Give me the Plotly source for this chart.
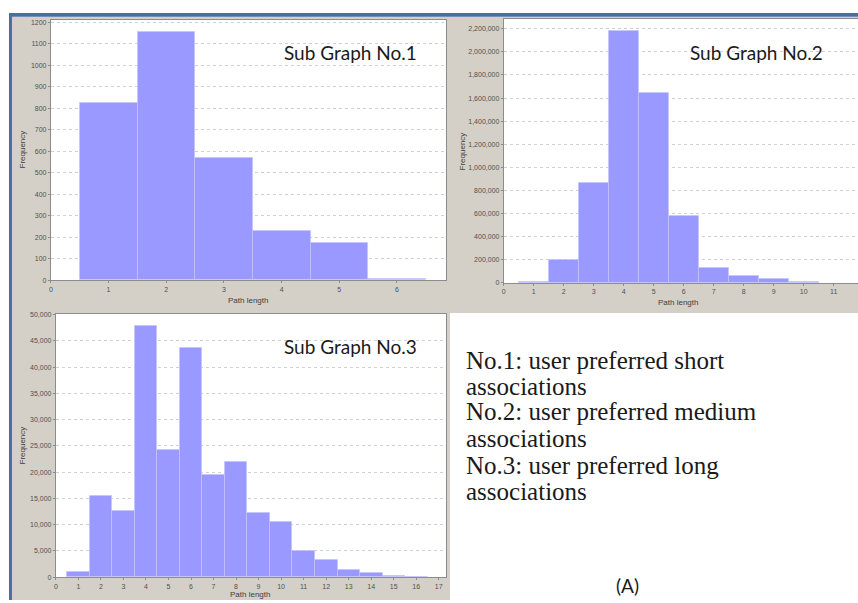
import plotly.graph_objects as go

W, H = 858, 603

# ---- data ----
p1_x = [1, 2, 3, 4, 5, 6]
p1_y = [828, 1158, 572, 230, 176, 8]

p2_x = [1, 2, 3, 4, 5, 6, 7, 8, 9, 10]
p2_y = [12000, 200000, 865000, 2180000, 1643000, 580000, 129000, 57000, 37000, 6000]

p3_x = [1, 2, 3, 4, 5, 6, 7, 8, 9, 10, 11, 12, 13, 14, 15, 16]
p3_y = [1100, 15400, 12700, 47900, 24200, 43600, 19400, 21900, 12200, 10500,
        5000, 3300, 1450, 750, 200, 60]

titles = ["Sub Graph No.1", "Sub Graph No.2", "Sub Graph No.3"]
notes = ["No.1: user preferred short", "associations",
         "No.2: user preferred medium", "associations",
         "No.3: user preferred long", "associations"]
x_label = "Path length"
y_label = "Frequency"
panel_label = "(A)"

# ---- helpers ----
def px(x):
    return x / W

def py(y):
    return 1 - y / H

BAR = "#9999ff"
GRAY = "#d4d0c8"
BLUE = "#4a6da7"
TICKF = dict(family="Liberation Sans, Arial, sans-serif", size=7, color="#505050")

fig = go.Figure()
for i, (xs, ys) in enumerate([(p1_x, p1_y), (p2_x, p2_y), (p3_x, p3_y)]):
    sfx = "" if i == 0 else str(i + 1)
    fig.add_trace(go.Bar(x=xs, y=ys, width=1, xaxis="x" + sfx, yaxis="y" + sfx,
                         marker=dict(color=BAR, line=dict(color="#c4c4ff", width=0.7)),
                         showlegend=False, hoverinfo="x+y"))

def xax(domain, rng, dtick, anchor, mirror=True):
    return dict(domain=domain, range=rng, anchor=anchor, dtick=dtick, tick0=0,
                showgrid=False, zeroline=False, showline=True, linecolor="#8c8c8c",
                linewidth=1, mirror=mirror, ticks="outside", ticklen=2, tickcolor="#8c8c8c",
                tickfont=TICKF, fixedrange=True)

def yax(domain, rng, dtick, anchor, fmt="d", mirror=True):
    return dict(domain=domain, range=rng, anchor=anchor, dtick=dtick, tick0=0,
                showgrid=True, gridcolor="#d0d0d0", griddash="dot", gridwidth=0.7,
                zeroline=False, showline=True, linecolor="#8c8c8c", linewidth=1,
                mirror=mirror, ticks="outside", ticklen=2, tickcolor="#8c8c8c",
                tickfont=TICKF, tickformat=fmt, fixedrange=True)

layout = dict(
    width=W, height=H, margin=dict(l=0, r=0, t=0, b=0),
    paper_bgcolor="white", plot_bgcolor="white", bargap=0,
    xaxis=xax([px(49), px(445)], [0, 6.85], 1, "y"),
    yaxis=yax([py(280), py(17)], [0, 1212], 100, "x"),
    xaxis2=xax([px(503), 1.0], [0, 11.81], 1, "y2"),
    yaxis2=yax([py(282.7), py(16)], [0, 2285700], 200000, "x2", fmt=",d", mirror=False),
    xaxis3=xax([px(54), px(445)], [0, 17.32], 1, "y3"),
    yaxis3=yax([py(580), py(314)], [0, 50130], 5000, "x3", fmt=",d"),
)
fig.update_layout(**layout)

shapes = [
    dict(type="rect", xref="paper", yref="paper", x0=px(10), x1=1, y0=py(313), y1=py(14),
         fillcolor=GRAY, line=dict(width=0), layer="below"),
    dict(type="rect", xref="paper", yref="paper", x0=px(10), x1=px(449), y0=0, y1=py(313),
         fillcolor=GRAY, line=dict(width=0), layer="below"),
]
for s in ["", "2", "3"]:
    shapes.append(dict(type="rect", xref="x" + s + " domain", yref="y" + s + " domain",
                       x0=0, x1=1, y0=0, y1=1, fillcolor="white",
                       line=dict(width=0), layer="below"))
shapes += [
    dict(type="rect", xref="paper", yref="paper", x0=px(7), x1=1, y0=py(14), y1=py(10),
         fillcolor=BLUE, line=dict(width=0), layer="above"),
    dict(type="rect", xref="paper", yref="paper", x0=px(7), x1=px(10), y0=0, y1=py(10),
         fillcolor=BLUE, line=dict(width=0), layer="above"),
]
fig.update_layout(shapes=shapes)

ann = []
AXF = dict(family="Liberation Sans, Arial, sans-serif", size=8, color="#404040")
for (cx, cy) in [(247, 300), (678, 302.5), (249, 597)]:
    ann.append(dict(x=px(cx), y=py(cy), xref="paper", yref="paper", text=x_label,
                    showarrow=False, font=AXF, xanchor="center", yanchor="middle"))
for (cx, cy) in [(21, 148), (462, 150), (21, 447)]:
    ann.append(dict(x=px(cx), y=py(cy), xref="paper", yref="paper", text=y_label,
                    textangle=-90, showarrow=False, font=AXF, xanchor="center", yanchor="middle"))
TF = dict(family="Lato, Open Sans, sans-serif", size=19, color="#1a1a1a")
for t, (cx, cy) in zip(titles, [(349, 50), (756, 50), (349, 347)]):
    ann.append(dict(x=px(cx), y=py(cy), xref="paper", yref="paper", text=t,
                    showarrow=False, font=TF, xanchor="center", yanchor="middle"))
NF = dict(family="Liberation Serif, Times New Roman, serif", size=25, color="#1a1a1a")
for t, cy in zip(notes, [361, 387, 413, 440, 467, 493]):
    ann.append(dict(x=px(463), y=py(cy), xref="paper", yref="paper", text=t,
                    showarrow=False, font=NF, xanchor="left", yanchor="middle"))
ann.append(dict(x=px(627), y=py(588), xref="paper", yref="paper", text=panel_label,
                showarrow=False, font=dict(family="Lato, Open Sans, sans-serif", size=19,
                                           color="#1a1a1a"),
                xanchor="center", yanchor="middle"))
fig.update_layout(annotations=ann)

fig.write_html("out.html", config={"displayModeBar": False},
               post_script="document.body.style.margin='0';document.body.style.padding='0';")
